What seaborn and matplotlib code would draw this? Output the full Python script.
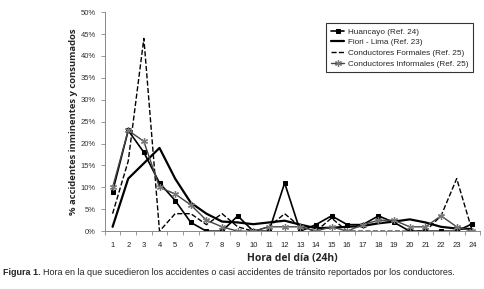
import pandas as pd
import matplotlib
matplotlib.use('Agg')
import matplotlib.pyplot as plt
from matplotlib.ticker import FixedLocator, PercentFormatter
import seaborn as sns

horas = list(range(1, 25))
huancayo = [9, 23, 18, 11, 7, 2, 0, 0, 3.5, 0, 0, 11, 0, 1.5, 3.5, 1.5, 1.5, 3.5, 2, 0, 0, 0, 0, 1.7]
fiori = [1, 12, 15.5, 19, 12, 6.5, 4, 2.2, 2, 1.6, 2, 2.4, 1.5, 0.7, 0.8, 1, 1.2, 1.8, 2.2, 2.7, 2, 1, 0.6, 0.5]
formales = [4, 16, 44, 0, 4, 4, 1.5, 4, 1, 0, 1, 4, 1, 0, 3, 0, 0, 0, 0, 0, 0, 3.5, 12, 0]
informales = [10, 23, 20.5, 10, 8.5, 6, 2.5, 1, 0, 0, 1, 1, 1, 0, 1, 0, 1.5, 2.5, 2.5, 1, 1, 3.5, 1, 0]

sns.set_style('white')
plt.rcParams['font.family'] = ['Liberation Sans', 'DejaVu Sans']

fig = plt.figure(figsize=(4.85, 2.89), dpi=100)
ax = fig.add_axes([0.216, 0.2, 0.774, 0.758])

series = [
    ('Huancayo (Ref. 24)', huancayo,
     dict(color='black', marker='s', markersize=3, markeredgecolor='black', linewidth=1.2)),
    ('Fiori - Lima (Ref. 23)', fiori, dict(color='black', linewidth=1.6)),
    ('Conductores Formales (Ref. 25)', formales, dict(color='black', linestyle='--', linewidth=1.0)),
    ('Conductores Informales (Ref. 25)', informales,
     dict(color='#444444', marker=(6, 2, 0), markersize=5, markeredgecolor='#777777',
          markeredgewidth=0.9, linewidth=1.0)),
]
for name, vals, kw in series:
    df = pd.DataFrame({'hora': horas, 'pct': vals})
    sns.lineplot(data=df, x='hora', y='pct', ax=ax, label=name, **kw)

ax.set_xlim(0.5, 24.5)
ax.set_ylim(0, 50)
ax.set_xticks(horas)
ax.set_xticklabels([str(h) for h in horas])
ax.xaxis.set_minor_locator(FixedLocator([h + 0.5 for h in range(0, 25)]))
ax.set_yticks(range(0, 51, 5))
ax.yaxis.set_major_formatter(PercentFormatter(decimals=0))
ax.tick_params(axis='x', which='major', length=0, labelsize=5.5, pad=8, colors='#222222')
ax.tick_params(axis='x', which='minor', length=3, width=0.6, color='#888888', bottom=True)
ax.tick_params(axis='y', length=3, width=0.6, color='#888888', labelsize=5.5, left=True, colors='#333333')
for s in ['top', 'right']:
    ax.spines[s].set_visible(False)
for s in ['left', 'bottom']:
    ax.spines[s].set_color('#888888')
    ax.spines[s].set_linewidth(0.7)

ax.set_xlabel('Hora del día (24h)', fontsize=7.5, fontweight='bold', labelpad=3,
              family=['Open Sans', 'DejaVu Sans'])
ax.set_ylabel('% accidentes inminentes y consumados', fontsize=6.8, fontweight='bold',
              labelpad=2, family=['Open Sans', 'DejaVu Sans'])

leg = ax.legend(loc='upper left', bbox_to_anchor=(0.59, 0.95), fontsize=5.9, frameon=True,
                fancybox=False, edgecolor='black', handlelength=1.6, borderpad=0.6,
                labelspacing=0.35, handletextpad=0.4, borderaxespad=0)
leg.get_frame().set_linewidth(0.8)

fig.text(0.006, 0.048, 'Figura 1.', fontsize=6.5, fontweight='bold')
fig.text(0.088, 0.048, 'Hora en la que sucedieron los accidentes o casi accidentes de tránsito '
         'reportados por los conductores.', fontsize=6.5)

plt.savefig('out.png', dpi=100)
